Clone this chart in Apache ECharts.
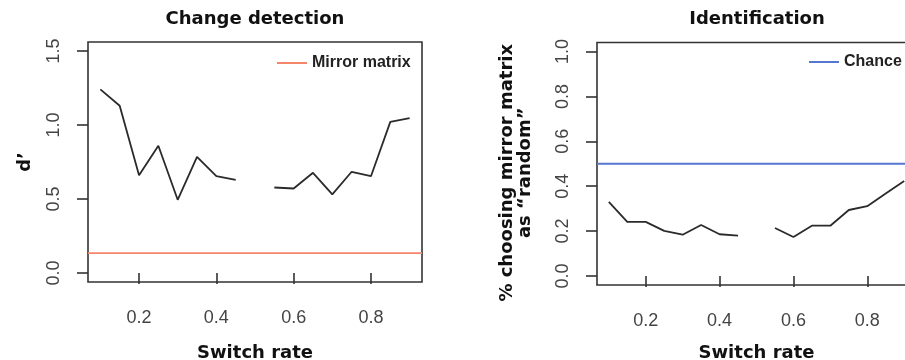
<!DOCTYPE html>
<html><head><meta charset="utf-8">
<script src="https://cdn.jsdelivr.net/npm/echarts@6/dist/echarts.min.js"></script>
<style>html,body{margin:0;padding:0;background:#fff}#c{width:905px;height:360px}</style>
</head><body><div id="c"></div>
<script>
// ---- data ----
const switchRate = [0.10,0.15,0.20,0.25,0.30,0.35,0.40,0.45,0.50,0.55,0.60,0.65,0.70,0.75,0.80,0.85,0.90];
const dPrime     = [1.24,1.13,0.66,0.86,0.495,0.785,0.655,0.63,null,0.578,0.571,0.677,0.531,0.684,0.654,1.021,1.046];
const pctRandom  = [0.33,0.241,0.241,0.201,0.184,0.227,0.186,0.18,null,0.214,0.174,0.224,0.224,0.294,0.311,0.368,0.423];
const mirrorMatrix = 0.135;
const chanceLevel = 0.5;
const xTicks = [0.2,0.4,0.6,0.8];
const yTicksLeft = [0.0,0.5,1.0,1.5];
const yTicksRight = [0.0,0.2,0.4,0.6,0.8,1.0];

// R-style 4% axis padding
const pad = (lo, hi) => [lo - 0.04*(hi-lo), hi + 0.04*(hi-lo)];
const [xMin, xMax] = pad(0.1, 0.9);
const [yLMin, yLMax] = pad(0, 1.5);
const [yRMin, yRMax] = pad(0, 1);

const toPairs = ys => switchRate.map((x,i) => [x, ys[i] == null ? '-' : ys[i]]);
const flat = v => [[xMin, v],[xMax, v]];

const INK = '#2b2b2b';
const titleFont = {fontFamily:'DejaVu Sans', fontWeight:'bold', fontSize:18, color:'#111'};
const tickFont = {fontFamily:'Liberation Sans', fontSize:18, color:'#444'};

function xAxisFor(grid, gap){
  return {
    type:'value', gridIndex:grid, min:xMin, max:xMax,
    name:'Switch rate', nameLocation:'middle', nameGap:gap, nameTextStyle:titleFont,
    axisLine:{show:false}, splitLine:{show:false},
    axisTick:{show:true, customValues:xTicks, length:11, lineStyle:{color:'#333', width:1.6}},
    axisLabel:Object.assign({customValues:xTicks, margin:27, formatter:v=>v.toFixed(1)}, tickFont)
  };
}
function yAxisFor(grid, min, max, ticks, name, gap, padStyle){
  return {
    type:'value', gridIndex:grid, min:min, max:max,
    name:name, nameLocation:'middle', nameRotate:90, nameGap:gap,
    nameTextStyle:Object.assign({lineHeight:18, padding:padStyle}, titleFont),
    axisLine:{show:false}, splitLine:{show:false},
    axisTick:{show:true, customValues:ticks, length:11, lineStyle:{color:'#333', width:1.6}},
    axisLabel:Object.assign({customValues:ticks, margin:25, rotate:90, formatter:v=>v.toFixed(1)}, tickFont)
  };
}

const chart = echarts.init(document.getElementById('c'), null, {renderer:'canvas'});
chart.setOption({
  animation:false,
  backgroundColor:'#fff',
  title:[
    {text:'Change detection', left:255, top:10, textAlign:'center', padding:0, textStyle:titleFont},
    {text:'Identification', left:757, top:10, textAlign:'center', padding:0, textStyle:titleFont}
  ],
  legend:[
    {data:['Mirror matrix'], left:277, top:55, width:200, padding:0, icon:'rect', itemWidth:30, itemHeight:2,
     textStyle:{fontFamily:'Liberation Sans', fontWeight:'bold', fontSize:16, color:'#222'}, selectedMode:false},
    {data:['Chance'], left:809, top:54, width:200, padding:0, icon:'rect', itemWidth:30, itemHeight:2,
     textStyle:{fontFamily:'Liberation Sans', fontWeight:'bold', fontSize:16, color:'#222'}, selectedMode:false}
  ],
  grid:[
    {left:88, top:42, width:334, height:240, show:true, borderColor:'#333', borderWidth:1.6, backgroundColor:'transparent', outerBoundsMode:'none', containLabel:false},
    {left:597, top:42.5, width:319, height:242.5, show:true, borderColor:'#333', borderWidth:1.6, backgroundColor:'transparent', outerBoundsMode:'none', containLabel:false}
  ],
  xAxis:[xAxisFor(0, 62), xAxisFor(1, 59)],
  yAxis:[
    yAxisFor(0, yLMin, yLMax, yTicksLeft, 'd\u2019', 54, [0,0,0,0]),
    yAxisFor(1, yRMin, yRMax, yTicksRight, '% choosing mirror matrix\nas \u201crandom\u201d', 63, [0,18,0,0])
  ],
  series:[
    {name:'d prime', type:'line', xAxisIndex:0, yAxisIndex:0, data:toPairs(dPrime), showSymbol:false, connectNulls:false,
     lineStyle:{color:INK, width:1.8}, itemStyle:{color:INK}, z:3},
    {name:'Mirror matrix', type:'line', xAxisIndex:0, yAxisIndex:0, data:flat(mirrorMatrix), showSymbol:false,
     lineStyle:{color:'#f4866b', width:1.8}, itemStyle:{color:'#f4866b'}, z:2},
    {name:'pct random', type:'line', xAxisIndex:1, yAxisIndex:1, data:toPairs(pctRandom), showSymbol:false, connectNulls:false,
     lineStyle:{color:INK, width:1.8}, itemStyle:{color:INK}, z:3},
    {name:'Chance', type:'line', xAxisIndex:1, yAxisIndex:1, data:flat(chanceLevel), showSymbol:false,
     lineStyle:{color:'#5577d0', width:1.8}, itemStyle:{color:'#5577d0'}, z:2}
  ]
});
</script></body></html>
